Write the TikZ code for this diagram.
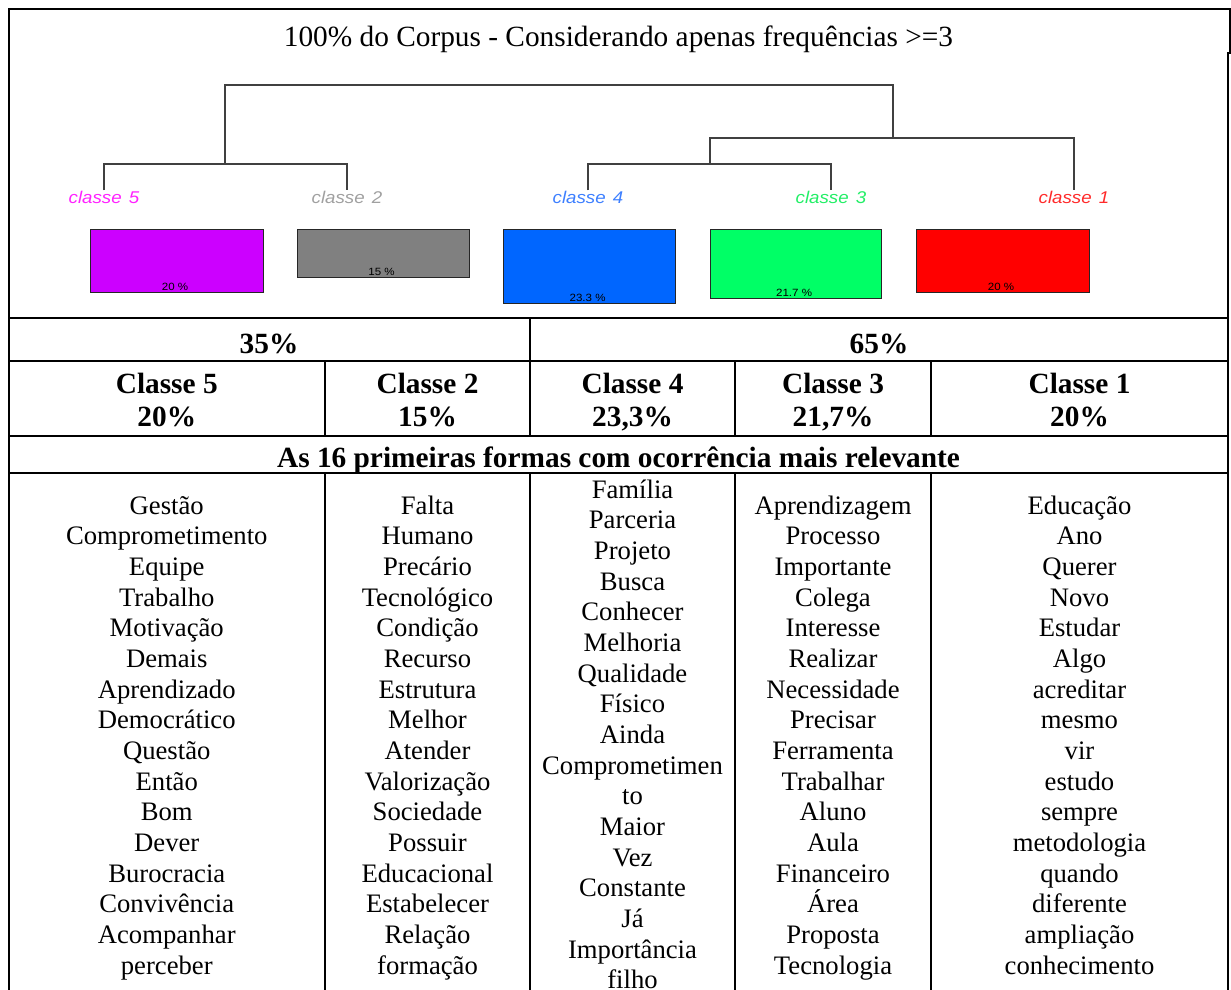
\documentclass[tikz,border=0pt]{standalone}
\usepackage{fontspec}
\setmainfont{Liberation Serif}
\newfontfamily\plotfont[FakeStretch=1.1]{Liberation Sans}

% bar fills and leaf label colours of the five classes
\definecolor{barfive}{HTML}{CC00FF}\definecolor{labfive}{HTML}{FF22FF}
\definecolor{bartwo}{HTML}{808080}\definecolor{labtwo}{HTML}{A0A0A0}
\definecolor{barfour}{HTML}{0066FF}\definecolor{labfour}{HTML}{3D7FFF}
\definecolor{barthree}{HTML}{00FF66}\definecolor{labthree}{HTML}{22EE66}
\definecolor{barone}{HTML}{FF0000}\definecolor{labone}{HTML}{FF2A2A}

\begin{document}
\begin{tikzpicture}[x=1pt,y=-1pt,
  rule/.style={line width=2pt, line join=miter},
  branch/.style={line width=1.3pt, draw=black!75},
  leaf/.style={font=\plotfont\itshape\fontsize{17}{17}\selectfont, anchor=base, inner sep=0pt},
  bar/.style={draw=black!85, line width=1.2pt, anchor=north west, inner sep=0pt},
  pct/.style={font=\plotfont\fontsize{10.5}{10.5}\selectfont, anchor=base, inner sep=0pt},
  head/.style={font=\bfseries\fontsize{29.33}{33}\selectfont, anchor=base, inner sep=0pt},
  word/.style={font=\fontsize{26.67}{30.67}\selectfont, anchor=base, inner sep=0pt},
]
\useasboundingbox (0,0) rectangle (1231,990);
\clip (0,0) rectangle (1231,990);

% title
\node[font=\fontsize{29.33}{33}\selectfont, anchor=base, inner sep=0pt] (title) at (618.5,47)
  {100\% do Corpus - Considerando apenas frequências >=3};

% leaf labels of the dendrogram
\node[leaf, text=labfive]  (lab5) at (104,203)  {classe\hspace{0.42em}5};
\node[leaf, text=labtwo]   (lab2) at (347,203)  {classe\hspace{0.42em}2};
\node[leaf, text=labfour]  (lab4) at (588,203)  {classe\hspace{0.42em}4};
\node[leaf, text=labthree] (lab3) at (831,203)  {classe\hspace{0.42em}3};
\node[leaf, text=labone]   (lab1) at (1074,203) {classe\hspace{0.42em}1};

% merge points
\coordinate (m52)  at (225,164);
\coordinate (m43)  at (710,164);
\coordinate (m431) at (893,138);
\coordinate (rootR) at (893,85);

\draw[branch] (lab5.north) |- (m52) -| (lab2.north);
\draw[branch] (lab4.north) |- (m43) -| (lab3.north);
\draw[branch] (m43) |- (m431) -| (lab1.north);
\draw[branch] (m52) |- (rootR) -- (m431);

% class size bars
\node[bar, fill=barfive,  minimum width=173pt, minimum height=63pt] (bar5) at (90,229)  {};
\node[bar, fill=bartwo,   minimum width=172pt, minimum height=48pt] (bar2) at (297,229) {};
\node[bar, fill=barfour,  minimum width=172pt, minimum height=74pt] (bar4) at (503,229) {};
\node[bar, fill=barthree, minimum width=171pt, minimum height=69pt] (bar3) at (710,229) {};
\node[bar, fill=barone,   minimum width=173pt, minimum height=63pt] (bar1) at (916,229) {};

\node[pct] (p5) at ([xshift=-2pt,yshift=3pt]bar5.south) {20 \%};
\node[pct] (p2) at ([xshift=-2pt,yshift=3pt]bar2.south) {15 \%};
\node[pct] (p4) at ([xshift=-2pt,yshift=3pt]bar4.south) {23.3 \%};
\node[pct] (p3) at ([xshift=-2pt,yshift=3pt]bar3.south) {21.7 \%};
\node[pct] (p1) at ([xshift=-2pt,yshift=3pt]bar1.south) {20 \%};

% frame and table rules
\draw[rule] (8.5,318) -- (8.5,9) -- (1230,9) -- (1230,53) -- (1228,53) -- (1228,990);
\draw[rule] (8.5,318) -- (8.5,990);
\draw[rule] (8.5,318) -- (1228,318);
\draw[rule] (8.5,361) -- (1228,361);
\draw[rule] (8.5,436) -- (1228,436);
\draw[rule] (8.5,473) -- (1228,473);
\draw[rule] (530,318) -- (530,436);
\foreach \cx in {325,735,931} \draw[rule] (\cx,361) -- (\cx,436);
\foreach \cx in {325,530,735,931} \draw[rule] (\cx,473) -- (\cx,990);

% header rows
\node[head] (g35) at (269,353) {35\%};
\node[head] (g65) at (879,353) {65\%};
\node[head] (h5) at (166.75,393) {Classe 5};
\node[head] (h2) at (427.5,393)  {Classe 2};
\node[head] (h4) at (632.5,393)  {Classe 4};
\node[head] (h3) at (833,393)    {Classe 3};
\node[head] (h1) at (1079.5,393) {Classe 1};
\node[head] (v5) at (166.75,426) {20\%};
\node[head] (v2) at (427.5,426)  {15\%};
\node[head] (v4) at (632.5,426)  {23,3\%};
\node[head] (v3) at (833,426)    {21,7\%};
\node[head] (v1) at (1079.5,426) {20\%};
\node[head] (forms) at (618.5,467) {As 16 primeiras formas com ocorrência mais relevante};

% word lists
\foreach [count=\i] \w in {Gestão,Comprometimento,Equipe,Trabalho,Motivação,Demais,Aprendizado,Democrático,Questão,Então,Bom,Dever,Burocracia,Convivência,Acompanhar,perceber}
  \node[word] (wa\i) at (166.75,{514+30.67*(\i-1)}) {\w};
\foreach [count=\i] \w in {Falta,Humano,Precário,Tecnológico,Condição,Recurso,Estrutura,Melhor,Atender,Valorização,Sociedade,Possuir,Educacional,Estabelecer,Relação,formação}
  \node[word] (wb\i) at (427.5,{514+30.67*(\i-1)}) {\w};
\foreach [count=\i] \w in {Família,Parceria,Projeto,Busca,Conhecer,Melhoria,Qualidade,Físico,Ainda,Comprometimen,to,Maior,Vez,Constante,Já,Importância,filho}
  \node[word] (wc\i) at (632.5,{498+30.67*(\i-1)}) {\w};
\foreach [count=\i] \w in {Aprendizagem,Processo,Importante,Colega,Interesse,Realizar,Necessidade,Precisar,Ferramenta,Trabalhar,Aluno,Aula,Financeiro,Área,Proposta,Tecnologia}
  \node[word] (wd\i) at (833,{514+30.67*(\i-1)}) {\w};
\foreach [count=\i] \w in {Educação,Ano,Querer,Novo,Estudar,Algo,acreditar,mesmo,vir,estudo,sempre,metodologia,quando,diferente,ampliação,conhecimento}
  \node[word] (we\i) at (1079.5,{514+30.67*(\i-1)}) {\w};
\end{tikzpicture}
\end{document}
